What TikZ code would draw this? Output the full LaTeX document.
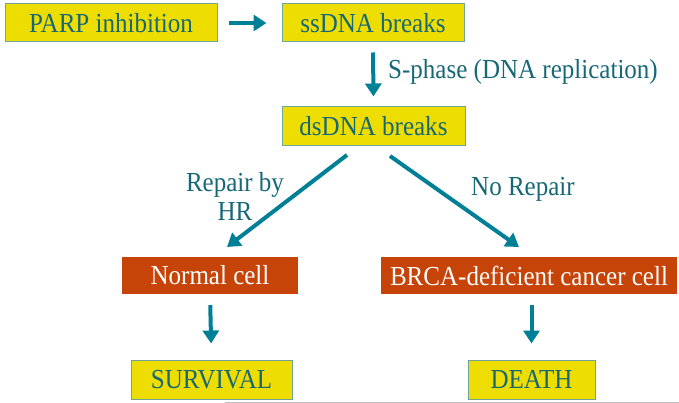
\documentclass[tikz,border=0pt]{standalone}
\usepackage{fontspec}
\setmainfont{Liberation Serif}[FakeStretch=0.91]
\usetikzlibrary{arrows.meta}
\definecolor{arrteal}{RGB}{0,128,150}
\definecolor{txtteal}{RGB}{22,104,118}
\definecolor{boxyellow}{RGB}{238,221,0}
\definecolor{boxedge}{RGB}{110,165,150}
\definecolor{boxred}{RGB}{198,68,8}
\tikzset{
    big/.style={font=\fontsize{27.5}{29}\selectfont},
    ybox/.style={big,draw=boxedge,line width=1pt,fill=boxyellow,text=txtteal,inner sep=0pt},
    rbox/.style={big,fill=boxred,text=white,inner sep=0pt},
    lbl/.style={big,text=txtteal,inner sep=0pt},
    arr/.style={draw=arrteal,line width=4pt,-{Triangle[length=13pt,width=16pt]}}
}
\begin{document}
\begin{tikzpicture}[x=1pt,y=-1pt]
                \useasboundingbox (0,0) rectangle (679,403);
                \node[ybox,minimum width=212pt,minimum height=38pt] (parp) at (111,23) {PARP inhibition};
                \node[ybox,minimum width=182pt,minimum height=38pt] (ssdna) at (373,23) {ssDNA breaks};
                \node[ybox,minimum width=183pt,minimum height=39pt] (dsdna) at (373.5,126.5) {dsDNA breaks};
                \node[rbox,minimum width=176pt,minimum height=37pt] (normal) at (210,275.5) {Normal cell};
                \node[rbox,minimum width=296pt,minimum height=37pt] (brca) at (529,275.5) {BRCA-deficient cancer cell};
                \node[ybox,minimum width=161pt,minimum height=39pt] (survival) at (211.5,379.5) {SURVIVAL};
                \node[ybox,minimum width=127pt,minimum height=39pt] (death) at (531.5,379.5) {DEATH};

                \coordinate (hrA) at (347,155);
                \coordinate (hrB) at (227,247);
                \coordinate (norA) at (390,156);
                \coordinate (norB) at (519,247);

                \draw[arr,shorten <=11pt,shorten >=15pt] (parp.east) -- (ssdna.west);
                \draw[arr,shorten <=10pt,shorten >=10pt] (ssdna.south) -- (dsdna.north);
                \draw[arr] (hrA) -- (hrB);
                \draw[arr] (norA) -- (norB);
                \draw[arr,shorten <=11pt,shorten >=16pt] (normal.south) -- (survival.north);
                \draw[arr,shorten <=11pt,shorten >=16pt] (brca.south -| death) -- (death.north);

                \node[lbl,anchor=west] (sphase) at (388,72) {S-phase (DNA replication)};
                \node[lbl,align=center] (repair) at (235,196) {Repair by\\HR};
                \node[lbl] (norepair) at (523,189) {No Repair};

                \draw[gray!50,line width=1pt] (225,402) -- (679,402);
            \end{tikzpicture}
\end{document}
